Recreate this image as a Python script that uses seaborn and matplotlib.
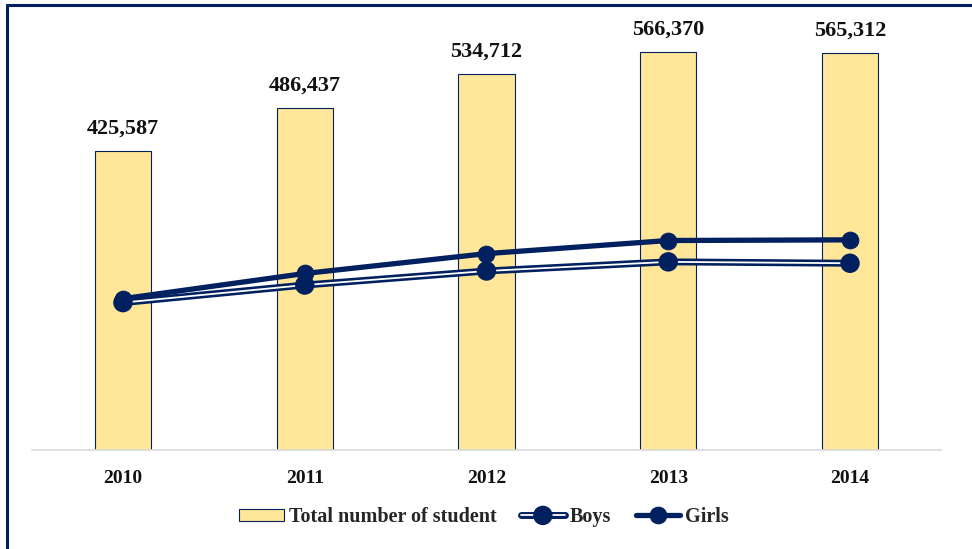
import numpy as np
import pandas as pd
import matplotlib
matplotlib.use("Agg")
import matplotlib.pyplot as plt
import matplotlib.patheffects as pe
from matplotlib.lines import Line2D
import seaborn as sns

# ==============================
# Data
# ==============================
years = ["2010", "2011", "2012", "2013", "2014"]
total = [425587, 486437, 534712, 566370, 565312]
boys = [210000, 235000, 255000, 268000, 266000]
girls = [215587, 251437, 279712, 298370, 299312]

navy = "#002060"
bar_fill = "#FFE699"

sns.set_theme(style="white")
plt.rcParams["font.family"] = ["Liberation Serif", "DejaVu Serif"]

df = pd.DataFrame({"year": years, "total": total, "boys": boys, "girls": girls})
df["pos"] = np.arange(len(years))

fig = plt.figure(figsize=(9.72, 5.49), dpi=100)
ax = fig.add_axes([0.033, 0.180, 0.935, 0.768])

# bars
sns.barplot(data=df, x="year", y="total", color=bar_fill, saturation=1,
            width=0.31, edgecolor=navy, linewidth=0.8, ax=ax,
            label="Total number of student")

for p, v in zip(df["pos"], df["total"]):
    ax.annotate(f"{v:,}", (p, v), xytext=(0, 9), textcoords="offset points",
                ha="center", va="bottom", fontsize=16, fontweight="bold",
                color="#111111", annotation_clip=False)

# Boys: double line (navy outline, white core)
sns.lineplot(data=df, x="pos", y="boys", ax=ax, color="white", lw=1.3,
             marker="o", markersize=9, markerfacecolor=navy,
             markeredgecolor=navy, label="Boys",
             path_effects=[pe.Stroke(linewidth=5, foreground=navy), pe.Normal()])
# Girls: thick solid line
sns.lineplot(data=df, x="pos", y="girls", ax=ax, color=navy, lw=3.8,
             marker="o", markersize=12, markerfacecolor=navy,
             markeredgecolor=navy, label="Girls")

ax.set_xlim(-0.5, len(years) - 0.5)
ax.set_ylim(0, 600000)
ax.set_xlabel("")
ax.set_ylabel("")
ax.set_yticks([])
ax.set_xticks(df["pos"])
ax.set_xticklabels(years, fontsize=14, fontweight="bold", color="#111111")
ax.tick_params(axis="x", length=0, pad=14)
for s in ["left", "right", "top"]:
    ax.spines[s].set_visible(False)
ax.spines["bottom"].set_color("#D9D9D9")
ax.spines["bottom"].set_linewidth(1.2)

handles, labels = ax.get_legend_handles_labels()
order = [labels.index(l) for l in ["Total number of student", "Boys", "Girls"]]
if ax.get_legend():
    ax.get_legend().remove()
fig.legend([handles[i] for i in order], [labels[i] for i in order],
           loc="center", bbox_to_anchor=(0.498, 0.058), ncol=3, frameon=False,
           prop={"size": 14.5, "weight": "bold"}, handlelength=2.2,
           handleheight=0.6, columnspacing=1.2, handletextpad=0.25)

# frame around the chart (left and top edges visible)
fig.add_artist(Line2D([0.0075, 0.0075], [0, 0.991], transform=fig.transFigure,
                      color=navy, lw=2.2))
fig.add_artist(Line2D([0.0075, 1.0], [0.991, 0.991], transform=fig.transFigure,
                      color=navy, lw=2.2))

fig.savefig("out.png", dpi=100)
